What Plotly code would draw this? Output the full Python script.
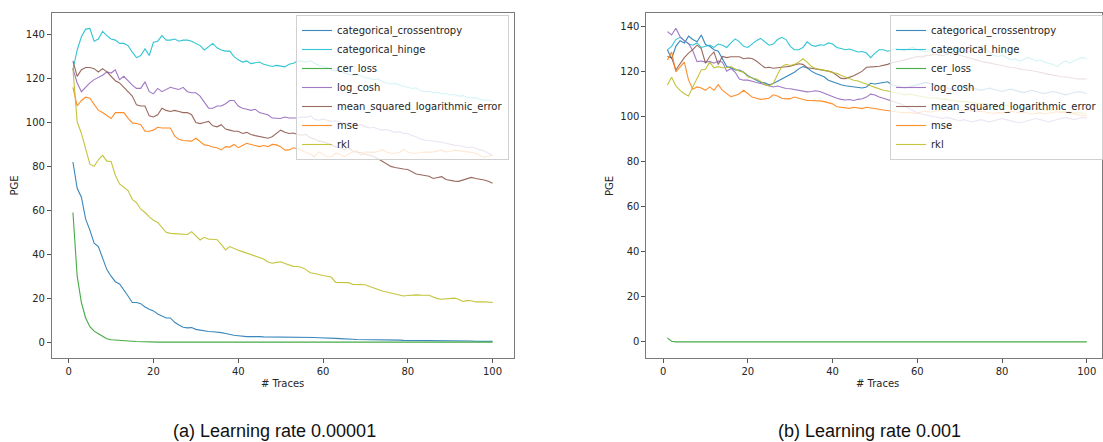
import plotly.graph_objects as go

x_traces = list(range(1, 101))
series_names = ["categorical_crossentropy", "categorical_hinge", "cer_loss", "log_cosh",
                "mean_squared_logarithmic_error", "mse", "rkl"]
series_colors = ["#1f77b4", "#17becf", "#2ca02c", "#9467bd", "#8c564b", "#ff7f0e", "#bcbd22"]
x_ticks = [0, 20, 40, 60, 80, 100]
y_ticks = [0, 20, 40, 60, 80, 100, 120, 140]
captions = ["(a) Learning rate 0.00001", "(b) Learning rate 0.001"]

# ---------------- (a) learning rate 0.00001 ----------------
a_cat_ce = [82, 70, 66, 56, 51, 45, 43.5, 38, 33, 30, 27.5, 26.5, 24, 21, 18, 18, 17.5, 16, 15, 14.2,
            12.8, 11.8, 11, 11, 9, 7.8, 6.8, 6.5, 6.6, 5.8, 5.4, 5, 4.8, 4.7, 4.6, 4.3, 3.9, 3.4, 3.1, 2.9,
            2.6, 2.5, 2.5, 2.6, 2.5, 2.4, 2.4, 2.3, 2.3, 2.3, 2.3, 2.4, 2.3, 2.3, 2.2, 2.2, 2.1, 2.1, 2.0, 2.0,
            1.9, 1.8, 1.7, 1.6, 1.4, 1.3, 1.3, 1.2, 1.2, 1.1, 1.1, 1.0, 1.0, 1.0, 0.9, 0.9, 0.9, 0.9, 0.8, 0.8,
            0.8, 0.8, 0.7, 0.7, 0.7, 0.7, 0.6, 0.6, 0.6, 0.6, 0.5, 0.5, 0.5, 0.5, 0.5, 0.4, 0.4, 0.4, 0.4, 0.4]
a_cat_hinge = [124, 133, 139, 142.5, 142.8, 137, 138, 141.5, 139.5, 138, 137.5, 136, 136, 135, 132, 129.5, 130.5, 133.5, 130.5, 136.5,
               137, 139.5, 137.5, 137.5, 138, 137, 137.5, 137.5, 137, 136, 135, 133, 134.5, 136, 134, 133, 132.5, 132.5, 130, 128.5,
               127.5, 128, 126.8, 127, 127.5, 126.5, 126, 125.5, 126, 125.5, 125.3, 126.5, 127, 128, 128, 127.5, 128.2, 127, 126, 125.5,
               125, 124, 123.5, 123.8, 122.5, 122, 121.5, 121.8, 121, 120.5, 120, 119.5, 119.8, 118.5, 118, 117.5, 117.8, 117, 116.5, 116,
               115.5, 115.8, 114.5, 114, 114.2, 113.5, 113.8, 113, 113.2, 112.5, 112.7, 112, 112.2, 111.5, 111, 111.3, 110.5, 110, 110.2, 109.5]
a_cer = [59, 30, 18, 11, 7, 5, 3.8, 2.5, 1.5, 1.1, 0.9, 0.8, 0.6, 0.5, 0.4, 0.25, 0.15, 0.1, 0.05, 0.05,
         0, 0, 0, 0, 0, 0, 0, 0, 0, 0, 0, 0, 0, 0, 0, 0, 0, 0, 0, 0,
         0, 0, 0, 0, 0, 0, 0, 0, 0, 0, 0, 0, 0, 0, 0, 0, 0, 0, 0, 0,
         0, 0, 0, 0, 0, 0, 0, 0, 0, 0, 0, 0, 0, 0, 0, 0, 0, 0, 0, 0,
         0, 0, 0, 0, 0, 0, 0, 0, 0, 0, 0, 0, 0, 0, 0, 0, 0, 0, 0, 0]
a_log_cosh = [124.5, 118, 114, 116, 118, 119.5, 120.5, 121.5, 123, 122.5, 124, 119.5, 121, 119, 117, 115.5, 115.5, 118.5, 114, 113,
              115.5, 114, 115, 116, 115.5, 115, 116, 114, 113.5, 113.5, 112, 109, 106.5, 106.5, 107.5, 107.5, 108.5, 110, 110, 107.5,
              106.5, 106, 105.5, 106, 104.5, 104, 103.5, 102, 102, 101.8, 102.5, 102, 102, 102, 102.5, 102.3, 103, 101.5, 101, 101.5,
              101, 100.5, 100.8, 100, 99.5, 99.8, 99, 98.5, 99, 98, 97.5, 97.8, 97, 96.5, 96.8, 96, 95.5, 95.8, 95, 95,
              94, 93.5, 92.5, 92, 91.8, 91.5, 91.2, 91, 90.5, 90, 89.7, 89.5, 89, 88.6, 88.8, 88.2, 87.5, 87, 86, 85]
a_msle = [128, 121, 124, 125, 125, 124.5, 123, 124.5, 123, 121, 119, 118, 116, 114, 112, 108, 107.5, 107.5, 103, 102.5,
          103.5, 106.5, 105.5, 105, 105.5, 105, 104.5, 104.5, 103.5, 100, 99.5, 100, 100.5, 98.5, 98, 99, 97, 96.5, 96, 96,
          95, 95.5, 94.5, 94, 93.5, 93, 92.8, 93.5, 95, 96.5, 95.5, 95, 95.2, 94.5, 94.2, 94.5, 93, 92.5, 91.5, 91.2,
          90.5, 89.7, 89, 88.5, 87.5, 88.5, 87, 86.5, 86.2, 85.5, 85.1, 84.5, 83.5, 82.3, 81, 80, 79.5, 79, 78.8, 78.6,
          77.5, 76.5, 76.2, 76, 75.5, 74.5, 74.8, 75.3, 74, 73.5, 73.3, 73.2, 73.8, 74.5, 75, 74.5, 74.3, 73.8, 73.2, 72.3]
a_mse = [116, 107.5, 110, 111.5, 111, 108.5, 105.5, 104.5, 103, 101.8, 104.5, 104.5, 104.5, 102, 99.8, 99.5, 99, 96, 96, 96.5,
         97.8, 97.5, 97.5, 97.5, 93.8, 92.3, 91.8, 91.5, 91.5, 92.8, 91.3, 89.8, 89.5, 88.8, 88.5, 87.5, 89, 88.8, 90, 88.5,
         89.5, 90.5, 90, 89.5, 89, 89.5, 89, 90, 89.8, 89, 87.4, 87.5, 88.5, 88, 87.2, 86.6, 85.5, 84.4, 86.6, 85.5,
         84.4, 84.5, 86, 85.5, 84.4, 85.5, 86.5, 87.1, 85.1, 86.6, 86.6, 86.4, 86.8, 87.7, 86.5, 86, 86, 86.3, 87.7, 86.5,
         86, 86, 86.2, 86.6, 86.4, 86.6, 87, 87.4, 86.6, 86.8, 87.4, 87.2, 86.8, 86.6, 86.4, 86, 85.2, 84.1, 84.6, 85.1]
a_rkl = [124.5, 100.3, 95, 88.5, 81, 80, 83, 85, 82.4, 82.2, 76, 72, 70.5, 69, 65, 63.5, 60.5, 59, 57, 55.5,
         54.5, 52.3, 50, 49.5, 49.3, 49.2, 49, 49, 50.3, 48.5, 46.5, 47.7, 46.8, 46.8, 46.6, 44.5, 42, 43.5, 42.5, 41.8,
         41.2, 40.5, 39.7, 39.2, 38.6, 37.8, 36.5, 35.9, 36.3, 36.6, 35.8, 35, 34.5, 34.4, 34, 33, 31.6, 31.2, 30.6, 30.3,
         30, 29.5, 27.2, 27.1, 27.2, 27.1, 26.3, 26.3, 26.4, 26.1, 25.3, 24.6, 23.8, 23.3, 22.8, 22.3, 22.1, 21.6, 21, 21.2,
         21.4, 21.5, 21.4, 21.3, 21.3, 20.5, 19.8, 19.5, 19.7, 19.9, 20, 19.5, 18.5, 18.9, 18.8, 18.3, 18.5, 18.4, 18.2, 18.1]

# ---------------- (b) learning rate 0.001 ----------------
b_cat_ce = [129.5, 125.5, 131, 133.5, 132.5, 135.5, 134, 133, 136, 131.8, 131, 129.5, 128.8, 125.5, 122, 121.5, 120.5, 120.5, 119.5, 118,
            117, 115.8, 115, 114.8, 114, 114.5, 115.5, 116.5, 117.2, 118.5, 119.5, 121, 122, 121.5, 120, 119, 118.3, 117.5, 116, 115.3,
            114.5, 114, 113.5, 113.2, 113, 112.5, 112.5, 113, 114.6, 114.3, 114.5, 115, 115.3, 114, 113.5, 113, 112.5, 113, 113.5, 114,
            114.5, 115, 114.5, 114, 113.5, 113, 112.5, 112, 112.5, 113, 113.5, 113, 112.5, 112, 111.5, 112, 112.5, 112, 111.5, 111,
            111.5, 112, 111.5, 111, 110.5, 111, 111.5, 111, 110.5, 110, 110.5, 111, 110.5, 110, 109.5, 110, 110.5, 111, 110.5, 110]
b_cat_hinge = [129.4, 131, 134, 135, 133.5, 132, 131.5, 132.5, 130.5, 131, 131.5, 130.5, 132, 131.5, 130.5, 132.5, 134.3, 133, 131, 130.5,
               132, 133.5, 134.5, 133, 131.5, 132, 134, 135, 134, 131, 129.5, 129.5, 130.5, 133, 131.5, 131, 131.7, 131.5, 132.5, 132,
               130.5, 130, 129.5, 129.8, 129, 128.5, 128.7, 128, 126, 128, 129.5, 129.5, 128.8, 129.5, 130, 129.5, 129, 130, 130.5, 129.5,
               129, 128.5, 129.5, 130, 129, 128.5, 128, 128.5, 129.5, 128.5, 128, 128.5, 129.5, 130.5, 131, 130, 128.5, 127, 126.5, 127,
               126, 125, 125.5, 124.5, 125, 126, 125.5, 124.5, 125, 124, 123.5, 123, 122, 123.5, 124.5, 123.5, 124.5, 125.5, 126, 125.5]
b_cer = [1.8, 0.3, 0, 0, 0, 0, 0, 0, 0, 0, 0, 0, 0, 0, 0, 0, 0, 0, 0, 0,
         0, 0, 0, 0, 0, 0, 0, 0, 0, 0, 0, 0, 0, 0, 0, 0, 0, 0, 0, 0,
         0, 0, 0, 0, 0, 0, 0, 0, 0, 0, 0, 0, 0, 0, 0, 0, 0, 0, 0, 0,
         0, 0, 0, 0, 0, 0, 0, 0, 0, 0, 0, 0, 0, 0, 0, 0, 0, 0, 0, 0,
         0, 0, 0, 0, 0, 0, 0, 0, 0, 0, 0, 0, 0, 0, 0, 0, 0, 0, 0, 0]
b_log_cosh = [137.5, 136, 139, 135.3, 133.5, 132.3, 129, 124.2, 124.5, 124, 124.3, 123.5, 124.5, 124, 120, 121.2, 119.5, 116.5, 116, 116,
              115.5, 115, 114.8, 114.2, 113.5, 113, 113.4, 112.8, 112.3, 112.2, 111.8, 111.4, 111, 110.8, 111, 111.3, 111, 110.2, 109.5, 108.6,
              108, 107.5, 107.2, 107.4, 107, 107.5, 107.8, 108.5, 109.8, 109.4, 108.5, 108, 107.4, 106.5, 106, 105.5, 104.5, 103.5, 102.5, 101.5,
              101, 100.5, 100, 99.8, 99.5, 99, 99.5, 99, 98.5, 98, 98.5, 98, 97.5, 98, 98.5, 98, 97.5, 98, 98.5, 99,
              98.5, 98, 97.5, 97, 97.5, 98, 98.5, 99, 98.5, 98, 97.5, 98, 98.5, 99, 99.5, 99, 98.5, 99, 99.5, 99]
b_msle = [126.5, 126, 120.5, 123.5, 126, 128, 129.5, 131.5, 130, 123.5, 126.5, 128.5, 123, 126.5, 126, 126.4, 126.5, 126.4, 125.5, 125.8,
          125.6, 124.5, 123, 121.5, 121.7, 121.3, 121.5, 121.7, 122, 122.2, 122.7, 123.3, 123, 121.5, 121.3, 121, 120.5, 120.5, 120, 119.5,
          118, 116.8, 116.7, 117.2, 118, 119, 120, 121.7, 122, 122, 122.2, 122.5, 123, 123.7, 124, 124.5, 125, 125.5, 126, 126.5,
          126.2, 126.8, 127, 127.5, 127.2, 126.8, 127.5, 128, 127.6, 127, 126.5, 126, 125.5, 125, 124.3, 124, 123.5, 123, 122.8, 122.5,
          122, 121.6, 121.5, 121, 120.6, 120.5, 120.2, 120, 119.5, 119, 118.6, 118.5, 118, 117.5, 117.4, 117, 116.7, 116.5, 116.6, 116.4]
b_mse = [124.9, 128.5, 119.7, 122, 124, 116, 112, 113, 112.5, 111.5, 113, 111.5, 114, 111.5, 110, 108.7, 109.2, 110, 111.5, 110,
         108.5, 108, 107.5, 107.7, 108, 109.5, 109, 108, 107.7, 107.8, 108.5, 108, 107.5, 107, 107, 107, 106.8, 106.5, 106, 105.5,
         104.2, 104, 103.5, 103.5, 104, 103.6, 103.4, 104, 103.8, 103.4, 103.1, 102.8, 102.5, 102, 102, 101.8, 101.5, 101.8, 101.3, 101.5,
         102, 102.3, 101.8, 102, 102.5, 103, 102.6, 103, 103.2, 102.8, 102.5, 102.8, 102.4, 102, 102.2, 101.8, 101.5, 101.2, 101.6, 101.5,
         101.8, 102.2, 102, 101.6, 101.8, 101.4, 101, 101.3, 101.5, 101, 101.3, 101.8, 102, 101.6, 101.8, 101.4, 101, 100.6, 100.3, 100]
b_rkl = [113.8, 117.3, 113.5, 111.5, 110, 109, 113, 116.5, 120.5, 120.8, 124, 121.5, 122, 121.5, 121.5, 122, 121, 120, 119.5, 117.5,
         117, 116.5, 115.5, 114, 113.5, 114.5, 118.5, 122, 123, 122.5, 123, 124, 125.5, 124, 122, 121.2, 120.8, 120.5, 120, 119.3,
         119, 118.2, 117.5, 116.5, 116, 115.6, 115, 114.2, 113.5, 112.8, 112, 111.5, 111.2, 110.9, 110.5, 110, 109.5, 109.8, 109.5, 109,
         108.7, 108.5, 108, 108.3, 108, 107.5, 107.6, 107, 106.8, 106.5, 106.6, 106.3, 106, 105.8, 105.5, 105.6, 105.2, 105, 104.7, 104.5,
         104.8, 104.4, 104, 103.8, 104, 103.5, 103.2, 103.4, 103, 102.8, 102.5, 102.8, 102.3, 102, 102.2, 101.8, 101.5, 101.7, 101.3, 101]

panel_a = [a_cat_ce, a_cat_hinge, a_cer, a_log_cosh, a_msle, a_mse, a_rkl]
panel_b = [b_cat_ce, b_cat_hinge, b_cer, b_log_cosh, b_msle, b_mse, b_rkl]

W, H = 1103, 442
fig = go.Figure()

for name, color, ys in zip(series_names, series_colors, panel_a):
    fig.add_trace(go.Scatter(x=x_traces, y=ys, mode="lines", name=name, opacity=0.88,
                             line=dict(color=color, width=1.1), xaxis="x", yaxis="y",
                             legend="legend"))
for name, color, ys in zip(series_names, series_colors, panel_b):
    fig.add_trace(go.Scatter(x=x_traces, y=ys, mode="lines", name=name, opacity=0.88,
                             line=dict(color=color, width=1.1), xaxis="x2", yaxis="y2",
                             legend="legend2"))

def px_x(p):
    return p / W

def px_y(p):
    return 1 - p / H

axis_common = dict(showline=True, mirror=True, linecolor="#7a7a7a", linewidth=1,
                   ticks="outside", ticklen=4, tickcolor="#555", tickwidth=1,
                   showgrid=False, zeroline=False,
                   tickfont=dict(family="DejaVu Sans", size=10, color="#262626"))

legend_common = dict(font=dict(family="DejaVu Sans", size=10, color="#262626"),
                     bgcolor="rgba(255,255,255,0.8)", bordercolor="#d0d0d0", borderwidth=1,
                     xanchor="left", yanchor="top", itemwidth=30, tracegroupgap=0)

fig.update_layout(
    width=W, height=H, autosize=False,
    margin=dict(l=0, r=0, t=0, b=0),
    paper_bgcolor="white", plot_bgcolor="white",
    showlegend=True,
    xaxis=dict(domain=[px_x(52), px_x(514)], range=[-3.95, 104.95], tickvals=x_ticks,
               anchor="y", **axis_common),
    yaxis=dict(domain=[px_y(357.7), px_y(13.3)], range=[-7.1, 149.7], tickvals=y_ticks,
               anchor="x", **axis_common),
    xaxis2=dict(domain=[px_x(647), 1.0], range=[-3.95, 103.6], tickvals=x_ticks,
                anchor="y2", **axis_common),
    yaxis2=dict(domain=[px_y(357.7), px_y(12.7)], range=[-7.0, 145.9], tickvals=y_ticks,
                anchor="x2", **axis_common),
    legend=dict(x=px_x(296), y=px_y(15), **legend_common),
    legend2=dict(x=px_x(891), y=px_y(15), **legend_common),
)

label_font = dict(family="DejaVu Sans", size=10, color="#262626")
caption_font = dict(family="Liberation Sans", size=18, color="#111")
annotations = [
    dict(text="PGE", x=px_x(15), y=px_y(185.5), textangle=-90, font=label_font),
    dict(text="PGE", x=px_x(610), y=px_y(185.5), textangle=-90, font=label_font),
    dict(text="# Traces", x=px_x(283), y=px_y(383), font=label_font),
    dict(text="# Traces", x=px_x(878), y=px_y(383), font=label_font),
    dict(text=captions[0], x=px_x(275), y=px_y(431), font=caption_font),
    dict(text=captions[1], x=px_x(870), y=px_y(431), font=caption_font),
]
for a in annotations:
    a.update(xref="paper", yref="paper", showarrow=False, xanchor="center", yanchor="middle")
fig.update_layout(annotations=annotations)

fig.write_html("out.html")
